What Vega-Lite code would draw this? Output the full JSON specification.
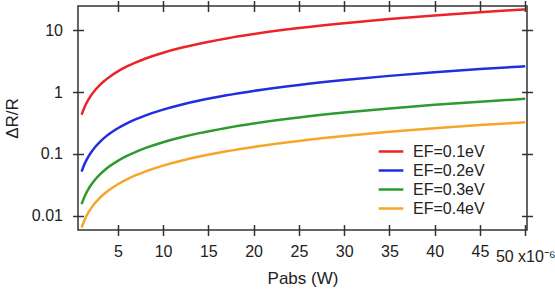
{
  "$schema": "https://vega.github.io/schema/vega-lite/v6.json",
  "width": 449,
  "height": 224,
  "autosize": "none",
  "padding": {"left": 78, "top": 6, "right": 28, "bottom": 60},
  "background": "white",
  "config": {
    "view": {"stroke": "#333333", "strokeWidth": 1.5},
    "font": "Liberation Sans",
    "axis": {
      "labelFont": "Liberation Sans",
      "titleFont": "Liberation Sans",
      "labelFontSize": 16,
      "titleFontSize": 17,
      "titleFontWeight": "normal",
      "labelColor": "#222222",
      "titleColor": "#222222",
      "tickColor": "#333333",
      "tickWidth": 1.5,
      "tickSize": 11,
      "domain": false,
      "grid": false
    }
  },
  "data": {
    "values": [
      {"P": 1, "s": "EF=0.1eV", "v": 0.43},
      {"P": 1.25, "s": "EF=0.1eV", "v": 0.5375},
      {"P": 1.5, "s": "EF=0.1eV", "v": 0.645},
      {"P": 1.75, "s": "EF=0.1eV", "v": 0.7525},
      {"P": 2, "s": "EF=0.1eV", "v": 0.86},
      {"P": 2.5, "s": "EF=0.1eV", "v": 1.075},
      {"P": 3, "s": "EF=0.1eV", "v": 1.29},
      {"P": 3.5, "s": "EF=0.1eV", "v": 1.505},
      {"P": 4, "s": "EF=0.1eV", "v": 1.72},
      {"P": 5, "s": "EF=0.1eV", "v": 2.15},
      {"P": 6, "s": "EF=0.1eV", "v": 2.58},
      {"P": 7, "s": "EF=0.1eV", "v": 3.01},
      {"P": 8, "s": "EF=0.1eV", "v": 3.44},
      {"P": 10, "s": "EF=0.1eV", "v": 4.3},
      {"P": 12, "s": "EF=0.1eV", "v": 5.16},
      {"P": 14, "s": "EF=0.1eV", "v": 6.02},
      {"P": 17, "s": "EF=0.1eV", "v": 7.31},
      {"P": 20, "s": "EF=0.1eV", "v": 8.6},
      {"P": 25, "s": "EF=0.1eV", "v": 10.75},
      {"P": 30, "s": "EF=0.1eV", "v": 12.9},
      {"P": 35, "s": "EF=0.1eV", "v": 15.05},
      {"P": 40, "s": "EF=0.1eV", "v": 17.2},
      {"P": 45, "s": "EF=0.1eV", "v": 19.35},
      {"P": 50, "s": "EF=0.1eV", "v": 21.5},
      {"P": 1, "s": "EF=0.2eV", "v": 0.052},
      {"P": 1.25, "s": "EF=0.2eV", "v": 0.065},
      {"P": 1.5, "s": "EF=0.2eV", "v": 0.078},
      {"P": 1.75, "s": "EF=0.2eV", "v": 0.091},
      {"P": 2, "s": "EF=0.2eV", "v": 0.104},
      {"P": 2.5, "s": "EF=0.2eV", "v": 0.13},
      {"P": 3, "s": "EF=0.2eV", "v": 0.156},
      {"P": 3.5, "s": "EF=0.2eV", "v": 0.182},
      {"P": 4, "s": "EF=0.2eV", "v": 0.208},
      {"P": 5, "s": "EF=0.2eV", "v": 0.26},
      {"P": 6, "s": "EF=0.2eV", "v": 0.312},
      {"P": 7, "s": "EF=0.2eV", "v": 0.364},
      {"P": 8, "s": "EF=0.2eV", "v": 0.416},
      {"P": 10, "s": "EF=0.2eV", "v": 0.52},
      {"P": 12, "s": "EF=0.2eV", "v": 0.624},
      {"P": 14, "s": "EF=0.2eV", "v": 0.728},
      {"P": 17, "s": "EF=0.2eV", "v": 0.884},
      {"P": 20, "s": "EF=0.2eV", "v": 1.04},
      {"P": 25, "s": "EF=0.2eV", "v": 1.3},
      {"P": 30, "s": "EF=0.2eV", "v": 1.56},
      {"P": 35, "s": "EF=0.2eV", "v": 1.82},
      {"P": 40, "s": "EF=0.2eV", "v": 2.08},
      {"P": 45, "s": "EF=0.2eV", "v": 2.34},
      {"P": 50, "s": "EF=0.2eV", "v": 2.6},
      {"P": 1, "s": "EF=0.3eV", "v": 0.0155},
      {"P": 1.25, "s": "EF=0.3eV", "v": 0.0194},
      {"P": 1.5, "s": "EF=0.3eV", "v": 0.0233},
      {"P": 1.75, "s": "EF=0.3eV", "v": 0.0271},
      {"P": 2, "s": "EF=0.3eV", "v": 0.031},
      {"P": 2.5, "s": "EF=0.3eV", "v": 0.0388},
      {"P": 3, "s": "EF=0.3eV", "v": 0.0465},
      {"P": 3.5, "s": "EF=0.3eV", "v": 0.0543},
      {"P": 4, "s": "EF=0.3eV", "v": 0.062},
      {"P": 5, "s": "EF=0.3eV", "v": 0.0775},
      {"P": 6, "s": "EF=0.3eV", "v": 0.093},
      {"P": 7, "s": "EF=0.3eV", "v": 0.1085},
      {"P": 8, "s": "EF=0.3eV", "v": 0.124},
      {"P": 10, "s": "EF=0.3eV", "v": 0.155},
      {"P": 12, "s": "EF=0.3eV", "v": 0.186},
      {"P": 14, "s": "EF=0.3eV", "v": 0.217},
      {"P": 17, "s": "EF=0.3eV", "v": 0.2635},
      {"P": 20, "s": "EF=0.3eV", "v": 0.31},
      {"P": 25, "s": "EF=0.3eV", "v": 0.3875},
      {"P": 30, "s": "EF=0.3eV", "v": 0.465},
      {"P": 35, "s": "EF=0.3eV", "v": 0.5425},
      {"P": 40, "s": "EF=0.3eV", "v": 0.62},
      {"P": 45, "s": "EF=0.3eV", "v": 0.6975},
      {"P": 50, "s": "EF=0.3eV", "v": 0.775},
      {"P": 1, "s": "EF=0.4eV", "v": 0.0065},
      {"P": 1.25, "s": "EF=0.4eV", "v": 0.0081},
      {"P": 1.5, "s": "EF=0.4eV", "v": 0.0098},
      {"P": 1.75, "s": "EF=0.4eV", "v": 0.0114},
      {"P": 2, "s": "EF=0.4eV", "v": 0.013},
      {"P": 2.5, "s": "EF=0.4eV", "v": 0.0163},
      {"P": 3, "s": "EF=0.4eV", "v": 0.0195},
      {"P": 3.5, "s": "EF=0.4eV", "v": 0.0228},
      {"P": 4, "s": "EF=0.4eV", "v": 0.026},
      {"P": 5, "s": "EF=0.4eV", "v": 0.0325},
      {"P": 6, "s": "EF=0.4eV", "v": 0.039},
      {"P": 7, "s": "EF=0.4eV", "v": 0.0455},
      {"P": 8, "s": "EF=0.4eV", "v": 0.052},
      {"P": 10, "s": "EF=0.4eV", "v": 0.065},
      {"P": 12, "s": "EF=0.4eV", "v": 0.078},
      {"P": 14, "s": "EF=0.4eV", "v": 0.091},
      {"P": 17, "s": "EF=0.4eV", "v": 0.1105},
      {"P": 20, "s": "EF=0.4eV", "v": 0.13},
      {"P": 25, "s": "EF=0.4eV", "v": 0.1625},
      {"P": 30, "s": "EF=0.4eV", "v": 0.195},
      {"P": 35, "s": "EF=0.4eV", "v": 0.2275},
      {"P": 40, "s": "EF=0.4eV", "v": 0.26},
      {"P": 45, "s": "EF=0.4eV", "v": 0.2925},
      {"P": 50, "s": "EF=0.4eV", "v": 0.325}
    ]
  },
  "layer": [
    {
      "mark": {"type": "line", "strokeWidth": 2.5, "interpolate": "monotone", "clip": true},
      "encoding": {
        "x": {
          "field": "P", "type": "quantitative",
          "scale": {"domain": [0.6, 50.2], "nice": false, "zero": false},
          "axis": {
            "orient": "bottom",
            "values": [5, 10, 15, 20, 25, 30, 35, 40, 45, 50],
            "offset": -5.5,
            "labelPadding": {"condition": {"test": "datum.value == 50", "value": 13}, "value": 8},
            "labelExpr": "datum.value == 50 ? '50 x10⁻⁶' : datum.label",
            "title": "Pabs (W)",
            "titlePadding": 6
          }
        },
        "y": {
          "field": "v", "type": "quantitative",
          "scale": {"type": "log", "domain": [0.00594, 24.4], "nice": false},
          "axis": {
            "orient": "left",
            "values": [0.01, 0.1, 1, 10],
            "format": "~g",
            "offset": -5.5,
            "labelPadding": 10,
            "title": "ΔR/R",
            "titlePadding": 10
          }
        },
        "color": {
          "field": "s", "type": "nominal",
          "scale": {
            "domain": ["EF=0.1eV", "EF=0.2eV", "EF=0.3eV", "EF=0.4eV"],
            "range": ["#ec2327", "#1f2fe0", "#2e9a2e", "#f7a52a"]
          },
          "legend": {
            "title": null,
            "orient": "none",
            "legendX": 302,
            "legendY": 134.5,
            "symbolType": "M-1.3,0H1.3",
            "symbolSize": 361,
            "symbolStrokeWidth": 2.5,
            "labelFont": "Liberation Sans",
            "labelFontSize": 16,
            "labelColor": "#222222",
            "rowPadding": 0,
            "labelOffset": 11
          }
        }
      }
    },
    {
      "mark": {"type": "point", "opacity": 0},
      "encoding": {
        "x": {
          "field": "P", "type": "quantitative",
          "axis": {
            "orient": "top",
            "values": [5, 10, 15, 20, 25, 30, 35, 40, 45, 50],
            "offset": -5.5,
            "labels": false,
            "title": null
          }
        },
        "y": {
          "field": "v", "type": "quantitative",
          "axis": {
            "orient": "right",
            "values": [0.01, 0.1, 1, 10],
            "offset": -5.5,
            "labels": false,
            "title": null
          }
        }
      }
    }
  ],
  "resolve": {"axis": {"x": "independent", "y": "independent"}}
}
